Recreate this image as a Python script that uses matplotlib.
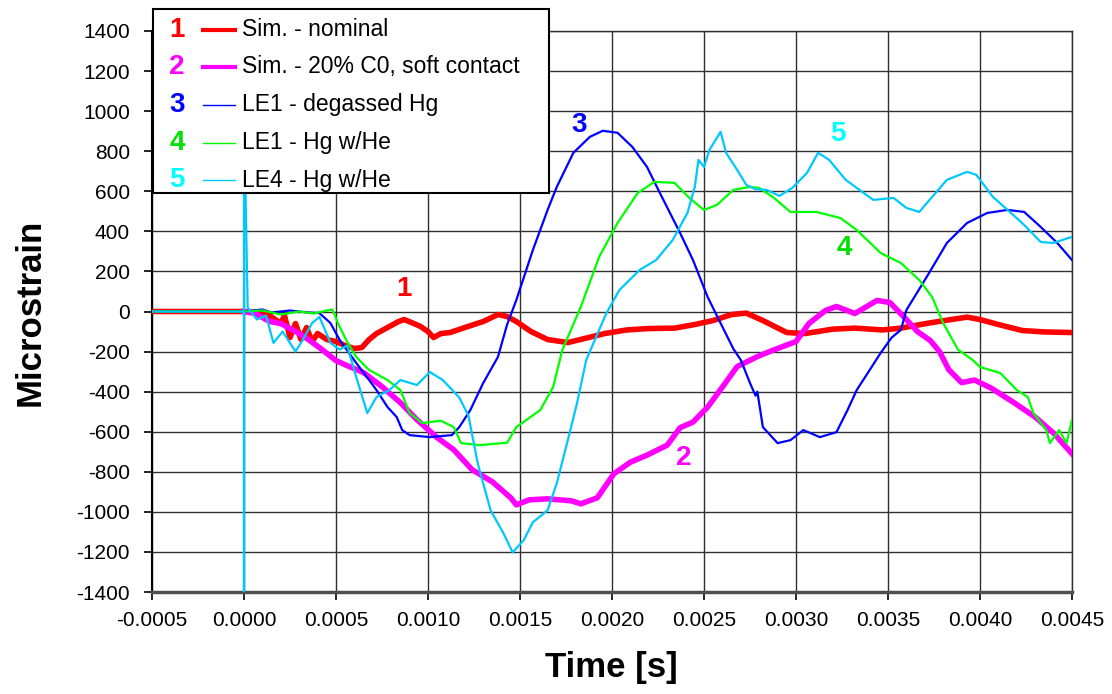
import numpy as np
import matplotlib.pyplot as plt
from matplotlib.patches import Rectangle
from matplotlib.lines import Line2D

plt.rcParams['font.family'] = ['Liberation Sans', 'DejaVu Sans']
plt.rcParams['axes.unicode_minus'] = False

# time in ms, strain in microstrain
t1 = [-0.5, 0.0, 0.06, 0.14, 0.20, 0.22, 0.25, 0.28, 0.31, 0.34, 0.37, 0.40, 0.45, 0.50,
      0.55, 0.60, 0.64, 0.68, 0.72, 0.78, 0.84, 0.87, 0.91, 0.96, 1.00, 1.03, 1.07, 1.12,
      1.20, 1.30, 1.38, 1.43, 1.48, 1.56, 1.65, 1.76, 1.85, 1.96, 2.08, 2.20, 2.34, 2.45,
      2.55, 2.65, 2.73, 2.82, 2.95, 3.05, 3.20, 3.32, 3.47, 3.57, 3.72, 3.83, 3.93, 4.00,
      4.10, 4.23, 4.35, 4.50]
s1 = [0, 0, -5, -20, -60, -20, -130, -60, -140, -80, -150, -110, -140, -150,
      -170, -185, -180, -140, -110, -80, -50, -40, -55, -75, -100, -130, -110, -105,
      -80, -50, -15, -25, -50, -100, -140, -155, -135, -110, -92, -85, -83, -65,
      -45, -15, -8, -45, -105, -110, -88, -83, -92, -83, -58, -42, -28, -40,
      -65, -95, -102, -105]

t2 = [0.0, 0.06, 0.14, 0.20, 0.29, 0.35, 0.41, 0.50, 0.56, 0.65, 0.75, 0.85, 0.94, 1.05,
      1.14, 1.24, 1.35, 1.45, 1.48, 1.55, 1.65, 1.78, 1.83, 1.92, 2.01, 2.10, 2.19, 2.30,
      2.33, 2.37, 2.44, 2.52, 2.60, 2.68, 2.79, 2.87, 3.00, 3.07, 3.16, 3.22, 3.32, 3.44,
      3.51, 3.60, 3.66, 3.73, 3.78, 3.83, 3.90, 3.97, 4.06, 4.18, 4.30, 4.40, 4.50]
s2 = [0, -10, -50, -60, -105, -140, -180, -245, -270, -305, -375, -455, -540, -630,
      -690, -790, -850, -930, -965, -940, -935, -945, -960, -930, -810, -752, -717, -667,
      -630, -580, -552, -477, -377, -275, -225, -195, -150, -60, 5, 25, -10, 55,
      45, -40, -100, -145, -200, -290, -355, -342, -382, -452, -527, -607, -710]

t3 = [-0.5, 0.0, 0.10, 0.15, 0.25, 0.35, 0.41, 0.47, 0.52, 0.61, 0.68, 0.72, 0.78, 0.83,
      0.86, 0.90, 1.01, 1.13, 1.17, 1.23, 1.30, 1.38, 1.43, 1.48, 1.57, 1.65, 1.70, 1.79,
      1.88, 1.95, 2.03, 2.11, 2.19, 2.26, 2.37, 2.44, 2.52, 2.59, 2.66, 2.70, 2.75, 2.78,
      2.79, 2.82, 2.90, 2.97, 3.04, 3.13, 3.22, 3.28, 3.33, 3.39, 3.46, 3.52, 3.57, 3.60,
      3.71, 3.82, 3.93, 4.04, 4.15, 4.24, 4.33, 4.42, 4.50]
s3 = [0, 0, 10, -5, 5, -5, -8, -58, -142, -257, -342, -392, -477, -527,
      -592, -617, -627, -617, -577, -492, -357, -227, -65, 57, 307, 507, 622, 792,
      872, 902, 892, 822, 722, 592, 392, 257, 72, -58, -187, -242, -357, -420,
      -400, -577, -657, -642, -592, -627, -602, -492, -392, -307, -207, -130, -92, 7,
      172, 342, 442, 492, 507, 497, 422, 342, 257]

t4 = [-0.5, 0.0, 0.10, 0.20, 0.30, 0.38, 0.45, 0.48, 0.52, 0.56, 0.61, 0.68, 0.78, 0.85,
      0.90, 0.97, 1.07, 1.14, 1.18, 1.28, 1.43, 1.48, 1.61, 1.68, 1.73, 1.83, 1.93, 2.03,
      2.14, 2.23, 2.34, 2.42, 2.50, 2.57, 2.66, 2.75, 2.80, 2.88, 2.97, 3.11, 3.24, 3.33,
      3.46, 3.57, 3.67, 3.74, 3.80, 3.88, 3.96, 4.00, 4.11, 4.20, 4.26, 4.29, 4.36, 4.38,
      4.43, 4.47, 4.50]
s4 = [0, 0, 5, -15, 0, -10, 5, 10, -77, -150, -227, -292, -342, -392,
      -507, -557, -545, -577, -657, -667, -655, -577, -492, -377, -192, 22, 272, 442,
      592, 647, 642, 567, 507, 532, 607, 622, 617, 567, 497, 497, 467, 407,
      292, 242, 157, 72, -58, -190, -242, -277, -307, -392, -427, -507, -592, -657,
      -592, -657, -542]

t5 = [-0.5, 0.0, 0.0, 0.0, 0.02, 0.07, 0.12, 0.16, 0.21, 0.28, 0.32, 0.37, 0.41, 0.47,
      0.52, 0.56, 0.61, 0.67, 0.72, 0.79, 0.85, 0.94, 1.01, 1.08, 1.13, 1.17, 1.22, 1.27,
      1.34, 1.41, 1.46, 1.52, 1.57, 1.65, 1.70, 1.76, 1.81, 1.86, 1.93, 1.97, 2.04, 2.15,
      2.24, 2.33, 2.41, 2.45, 2.47, 2.50, 2.53, 2.59, 2.62, 2.68, 2.73, 2.78, 2.84, 2.91,
      2.98, 3.06, 3.12, 3.18, 3.27, 3.42, 3.53, 3.60, 3.67, 3.74, 3.82, 3.93, 3.98, 4.07,
      4.15, 4.24, 4.33, 4.40, 4.48, 4.50]
s5 = [0, 0, -1400, 1000, 20, -40, -20, -157, -100, -200, -140, -58, -27, -157,
      -190, -170, -327, -507, -427, -392, -342, -367, -302, -342, -390, -430, -520, -757,
      -992, -1107, -1202, -1142, -1052, -992, -857, -642, -457, -242, -92, -8, 107, 207,
      257, 357, 492, 622, 757, 722, 807, 897, 792, 707, 632, 610, 607, 577,
      617, 692, 792, 757, 657, 557, 567, 517, 497, 572, 657, 697, 682, 572,
      507, 432, 347, 342, 367, 372]

names = ['Sim. - nominal', 'Sim. - 20% C0, soft contact', 'LE1 - degassed Hg',
         'LE1 - Hg w/He', 'LE4 - Hg w/He']
line_colors = ['#ff0000', '#ff00ff', '#0000ff', '#00ff00', '#00c8ff']
num_colors = ['#ff0000', '#ff00ff', '#0000ff', '#00e000', '#00ffff']
widths = [4.0, 4.0, 1.6, 1.6, 1.6]

# where the series numbers sit in the chart (ms, microstrain)
num_t = [0.87, 2.39, 1.82, 3.26, 3.23]
num_s = [110, -732, 932, 317, 885]

x_ticks = [-0.0005, 0.0, 0.0005, 0.0010, 0.0015, 0.0020, 0.0025, 0.0030, 0.0035, 0.0040, 0.0045]
y_ticks = list(range(-1400, 1401, 200))

W, H = 1112, 694
fig = plt.figure(figsize=(W / 100, H / 100), dpi=100)
ax = fig.add_axes([152 / W, 1 - 592 / H, 920 / W, 561 / H])

series = [(t1, s1), (t2, s2), (t3, s3), (t4, s4), (t5, s5)]
for i, (t, s) in enumerate(series):
    ax.plot(np.array(t) / 1000, s, color=line_colors[i], lw=widths[i], zorder=3 + i)
    ax.text(num_t[i] / 1000, num_s[i], str(i + 1), color=num_colors[i], fontsize=20,
            fontweight='bold', ha='center', va='center', zorder=10)

ax.set_xlim(-0.0005, 0.0045)
ax.set_ylim(-1400, 1400)
ax.set_xticks(x_ticks)
ax.set_xticklabels([f'{v:.4f}' for v in x_ticks])
ax.set_yticks(y_ticks)
ax.tick_params(labelsize=15, length=6, width=1.2, direction='out')
ax.tick_params(axis='y', pad=10)
ax.tick_params(axis='x', pad=8)
ax.grid(True, color='#303030', lw=1.0)
ax.set_axisbelow(True)
for side in ['top', 'right']:
    ax.spines[side].set_color('#303030')
    ax.spines[side].set_linewidth(1.0)
ax.spines['left'].set_linewidth(1.5)
ax.spines['bottom'].set_color('#505050')
ax.spines['bottom'].set_linewidth(2.5)

fig.text(30 / W, 1 - 312 / H, 'Microstrain', rotation=90, ha='center', va='center',
         fontsize=25, fontweight='bold')
fig.text(611 / W, 1 - 668 / H, 'Time [s]', ha='center', va='center',
         fontsize=25, fontweight='bold')

# legend box drawn by hand so the numbers sit left of the keys
fig.add_artist(Rectangle((153 / W, 1 - 193 / H), 396 / W, 184 / H, transform=fig.transFigure,
                         facecolor='white', edgecolor='black', lw=1.5, zorder=20))
row_y = [30, 67, 105, 143, 180]
key_w = [3.0, 3.0, 1.0, 1.0, 1.0]
for i in range(5):
    yy = 1 - row_y[i] / H
    fig.text(177 / W, yy, str(i + 1), color=num_colors[i], fontsize=20, fontweight='bold',
             ha='center', va='center', zorder=21)
    fig.add_artist(Line2D([203 / W, 235 / W], [yy, yy], transform=fig.transFigure,
                          color=line_colors[i], lw=key_w[i], zorder=21))
    fig.text(242 / W, yy, names[i], fontsize=16.5, ha='left', va='center', zorder=21)

fig.savefig('out.png', dpi=100)
